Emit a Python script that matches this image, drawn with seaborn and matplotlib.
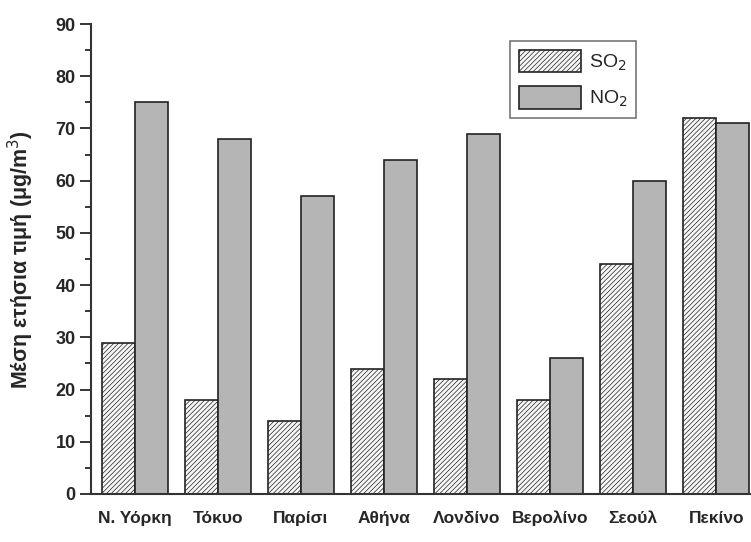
import matplotlib
matplotlib.use("Agg")
import matplotlib.pyplot as plt
import pandas as pd
import seaborn as sns
from matplotlib.ticker import MultipleLocator

# Data
cities = ['Ν. Υόρκη', 'Τόκυο', 'Παρίσι', 'Αθήνα', 'Λονδίνο', 'Βερολίνο', 'Σεούλ', 'Πεκίνο']
so2 = [29, 18, 14, 24, 22, 18, 44, 72]
no2 = [75, 68, 57, 64, 69, 26, 60, 71]
pollutants = ['SO$_2$', 'NO$_2$']

df = pd.DataFrame({
    'city': cities * 2,
    'pollutant': [pollutants[0]] * len(cities) + [pollutants[1]] * len(cities),
    'value': so2 + no2,
})

sns.set_style('ticks')
plt.rcParams['font.family'] = ['Liberation Sans', 'DejaVu Sans']
plt.rcParams['hatch.color'] = '#ababab'
plt.rcParams['hatch.linewidth'] = 0.5

fig = plt.figure(figsize=(7.51, 5.42), dpi=100)
ax = fig.add_axes([0.121, 0.0886, 0.879, 0.867])

sns.barplot(
    data=df, x='city', y='value', hue='pollutant',
    palette=['#f7f7f7', '#b5b5b5'], width=0.8, saturation=1,
    edgecolor='#222222', linewidth=1.2, legend=False, ax=ax
)

# Hatch the SO2 bars
for bar in ax.containers[0]:
    bar.set_hatch('///////')

ax.set_ylim(0, 90)
ax.set_xlim(-0.53, 7.42)
ax.yaxis.set_major_locator(MultipleLocator(10))
ax.yaxis.set_minor_locator(MultipleLocator(5))
ax.tick_params(axis='y', which='major', length=8, width=1.3, direction='out', pad=3)
ax.tick_params(axis='y', which='minor', length=4, width=1.3, direction='out')
ax.tick_params(axis='x', length=0, pad=12)
for lab in ax.get_yticklabels():
    lab.set_fontweight('bold')
    lab.set_fontsize(13)
for lab in ax.get_xticklabels():
    lab.set_fontweight('bold')
    lab.set_fontsize(12.5)

ax.set_xlabel('')
ax.set_ylabel('Μέση ετήσια τιμή (μg/m$^3$)', fontsize=15.5, fontweight='bold', labelpad=14)

sns.despine(ax=ax)
for side in ['left', 'bottom']:
    ax.spines[side].set_linewidth(1.5)
    ax.spines[side].set_color('#333333')

leg = ax.legend(
    handles=[ax.containers[0], ax.containers[1]], labels=pollutants,
    loc='upper left', bbox_to_anchor=(0.635, 0.964), fontsize=14,
    frameon=True, fancybox=False, edgecolor='#555555',
    handlelength=3.2, handleheight=1.4, handletextpad=0.4,
    borderpad=0.45, labelspacing=0.7, borderaxespad=0
)
leg.get_frame().set_linewidth(1.2)

fig.savefig('out.png', dpi=100)
